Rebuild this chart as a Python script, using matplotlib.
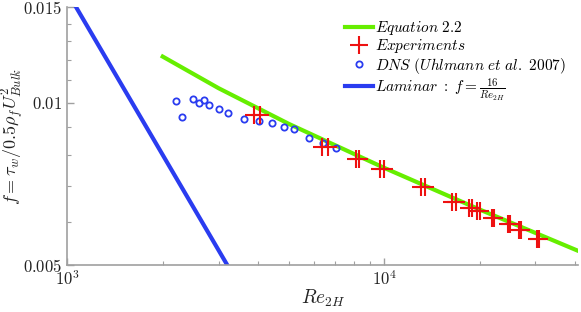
import matplotlib
matplotlib.use("Agg")
import matplotlib.pyplot as plt

plt.rcParams["mathtext.fontset"] = "cm"
plt.rcParams["font.family"] = "serif"
plt.rcParams["font.serif"] = ["DejaVu Serif"]

# Equation 2.2
eq_re = [2000, 3000, 5000, 10000, 20000, 40500]
eq_f = [0.01216, 0.01063, 0.00913, 0.00757, 0.00634, 0.00533]

# Laminar: f = 16 / Re_2H
lam_re = [1000, 3200]
lam_f = [0.016, 0.005]

# DNS (Uhlmann et al. 2007)
dns_re = [2202, 2300, 2492, 2603, 2699, 2799, 3009, 3213, 3610, 4011,
          4423, 4827, 5208, 5808, 6408, 7041]
dns_f = [0.01006, 0.00940, 0.01015, 0.00998, 0.01011, 0.00990, 0.00973,
         0.00958, 0.00933, 0.00923, 0.00915, 0.00902, 0.00893, 0.00860,
         0.00841, 0.00825]

# Experiments (pairs of runs at almost the same Re)
exp_re = [3890, 4063, 6339, 6643, 8124, 8331, 9692, 9957, 13082, 13440,
          16357, 16800, 18459, 18880, 19608, 20040, 21870, 22270,
          24560, 25010, 26610, 27050, 30430, 30870]
exp_f = [0.009483, 0.009483, 0.008285, 0.008285, 0.007855, 0.007855,
         0.007521, 0.007521, 0.006964, 0.006964, 0.006553, 0.006553,
         0.006387, 0.006387, 0.006301, 0.006301, 0.006108, 0.006108,
         0.005962, 0.005962, 0.005823, 0.005823, 0.005600, 0.005600]

y_major = [0.005, 0.01, 0.015]
y_major_labels = ["$0.005$", "$0.01$", "$0.015$"]
y_minor = [0.006, 0.007, 0.008, 0.009, 0.011, 0.012, 0.013, 0.014]
x_major = [1000, 10000]
x_major_labels = ["$10^3$", "$10^4$"]

fig = plt.figure(figsize=(5.81, 3.12), dpi=100)
ax = fig.add_axes([67.3 / 581, 46.7 / 312, 511.2 / 581, 258 / 312])

ax.plot(eq_re, eq_f, color="#66ee00", lw=3, label=r"$Equation\ 2.2$", zorder=2)
ax.plot(exp_re, exp_f, ls="none", marker="+", ms=13, mew=1.5, color="#ee1111",
        label=r"$Experiments$", zorder=4)
ax.plot(dns_re, dns_f, ls="none", marker="o", ms=4.5, mew=1.3, mfc="none",
        mec="#2a3cf0", label=r"$DNS\ (Uhlmann\ et\ al.\ 2007)$", zorder=3)
ax.plot(lam_re, lam_f, color="#2a3cf0", lw=3,
        label=r"$Laminar\ :\ f=\frac{16}{Re_{2H}}$", zorder=2)

ax.set_xscale("log")
ax.set_yscale("log")
ax.set_xlim(1000, 41000)
ax.set_ylim(0.005, 0.015)

ax.set_xticks(x_major, x_major_labels)
ax.set_yticks(y_major, y_major_labels)
ax.set_yticks(y_minor, minor=True)
ax.yaxis.set_minor_formatter(matplotlib.ticker.NullFormatter())
ax.xaxis.set_minor_formatter(matplotlib.ticker.NullFormatter())

for side in ["top", "right"]:
    ax.spines[side].set_visible(False)
for side in ["bottom", "left"]:
    ax.spines[side].set_color("#a0a0a0")
    ax.spines[side].set_linewidth(1.2)
ax.tick_params(which="both", direction="in", color="#a0a0a0", labelsize=12,
               labelcolor="#222222")
ax.tick_params(which="major", length=5, width=1)
ax.tick_params(which="minor", length=3, width=0.8)

ax.set_xlabel(r"$Re_{2H}$", fontsize=14, color="#222222")
ax.xaxis.set_label_coords(0.5, -22 / 258)
ax.set_ylabel(r"$f=\tau_w/0.5\rho_f U^2_{Bulk}$", fontsize=13, color="#222222")
ax.yaxis.set_label_coords(-41 / 511.2, 0.5)

ax.legend(loc="upper left", bbox_to_anchor=(345 / 581, 1 - 19 / 312),
          bbox_transform=fig.transFigure, frameon=False, fontsize=11,
          handlelength=1.8, handletextpad=0.15, labelspacing=0.02,
          numpoints=1, borderpad=0, borderaxespad=0)

fig.savefig("out.png", dpi=100)
